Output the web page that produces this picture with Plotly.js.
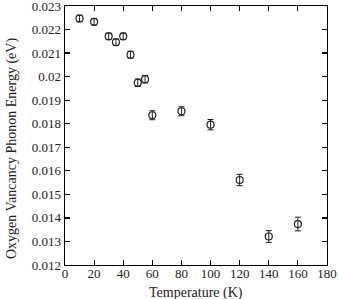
<!DOCTYPE html>
<html>
<head>
<meta charset="utf-8">
<script src="https://cdn.plot.ly/plotly-3.0.1.min.js"></script>
<style>html,body{margin:0;padding:0;background:#fff;}#chart{width:339px;height:299px;}</style>
</head>
<body>
<div id="chart"></div>
<script>
const temperature = [10, 20, 30, 35, 40, 45, 50, 55, 60, 80, 100, 120, 140, 160];
const energy = [0.02247, 0.02233, 0.02171, 0.02146, 0.02171, 0.02093, 0.01974, 0.01989, 0.01836, 0.01853, 0.01796, 0.01561, 0.01321, 0.01374];
const energyErr = [0.00014, 0.00014, 0.00014, 0.00014, 0.00014, 0.00015, 0.00016, 0.00016, 0.00019, 0.00019, 0.00022, 0.00024, 0.00025, 0.00029];
const xTicks = [0, 20, 40, 60, 80, 100, 120, 140, 160, 180];
const yTicks = [0.012, 0.013, 0.014, 0.015, 0.016, 0.017, 0.018, 0.019, 0.020, 0.021, 0.022, 0.023];
const yTickText = ['0.012','0.013','0.014','0.015','0.016','0.017','0.018','0.019','0.02','0.021','0.022','0.023'];
const xTitle = 'Temperature (K)';
const yTitle = 'Oxygen Vancancy Phonon Energy (eV)';

const font = 'Liberation Serif, Times New Roman, serif';
const trace = {
  x: temperature, y: energy, type: 'scatter', mode: 'markers',
  marker: {symbol: 'circle-open', size: 7, color: '#222', line: {width: 1.2, color: '#222'}},
  error_y: {type: 'data', array: energyErr, visible: true, color: '#222', thickness: 1, width: 3},
  cliponaxis: false
};
const axisCommon = {
  showgrid: false, zeroline: false, showline: true, linecolor: '#000', linewidth: 1.3,
  mirror: 'ticks', ticks: 'inside', ticklen: 5, tickwidth: 1.2, tickcolor: '#000',
  ticklabeloverflow: 'allow',
  tickfont: {family: font, size: 13, color: '#222'}
};
const layout = {
  width: 339, height: 299,
  margin: {l: 65, r: 12, t: 6, b: 34},
  paper_bgcolor: '#fff', plot_bgcolor: '#fff',
  showlegend: false,
  xaxis: Object.assign({}, axisCommon, {
    range: [0, 180], tickvals: xTicks, ticktext: xTicks.map(String),
    ticklabelstandoff: -4
  }),
  yaxis: Object.assign({}, axisCommon, {
    range: [0.01199999, 0.02300001], tickvals: yTicks, ticktext: yTickText
  }),
  annotations: [
    {text: xTitle, xref: 'paper', yref: 'paper', x: 0.5, y: -0.068, yanchor: 'top', xanchor: 'center',
     showarrow: false, font: {family: font, size: 14, color: '#222'}},
    {text: yTitle, xref: 'paper', yref: 'paper', x: -0.2, xanchor: 'center', y: 0.45, yanchor: 'middle',
     textangle: -90, showarrow: false, font: {family: font, size: 14, color: '#222'}}
  ]
};
Plotly.newPlot('chart', [trace], layout, {staticPlot: true, displayModeBar: false});
</script>
</body>
</html>
